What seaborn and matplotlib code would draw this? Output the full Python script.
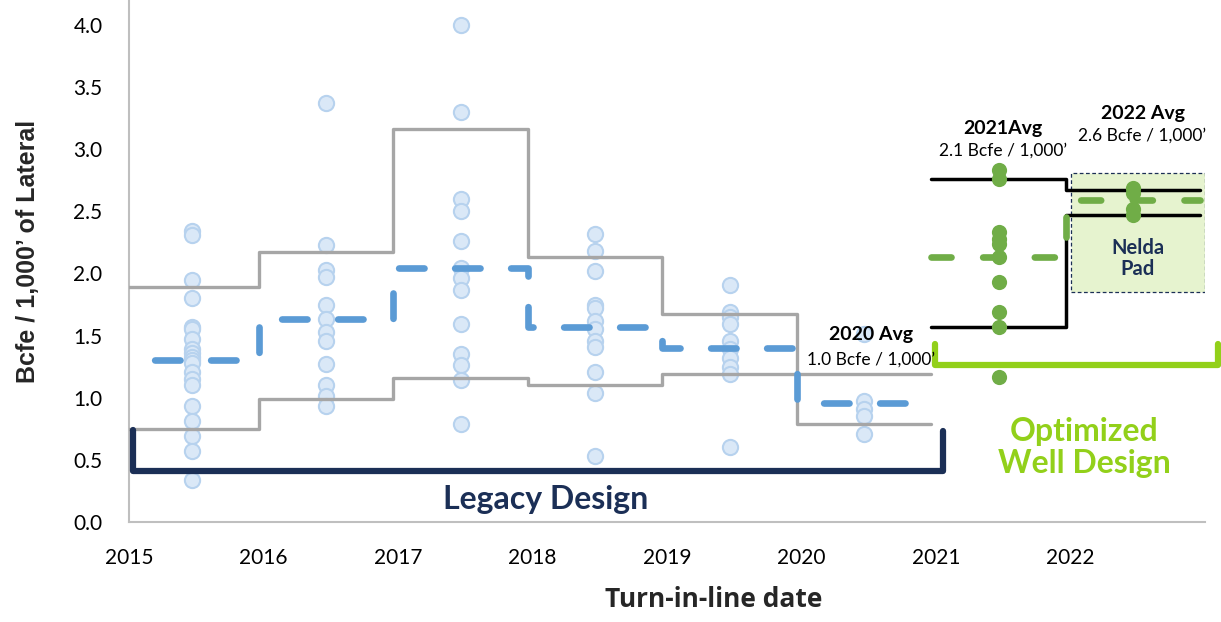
import numpy as np
import pandas as pd
import seaborn as sns
import matplotlib.pyplot as plt
from matplotlib.patches import Rectangle

# ---- data ----
tick_years = [2015, 2016, 2017, 2018, 2019, 2020, 2021, 2022]

# individual wells, legacy design (plotted mid-year)
legacy_wells = {
    2015: [2.34, 2.31, 1.95, 1.80, 1.57, 1.55, 1.47, 1.39, 1.36, 1.33, 1.30,
           1.28, 1.21, 1.15, 1.10, 0.93, 0.81, 0.69, 0.57, 0.34],
    2016: [3.37, 2.23, 2.03, 1.97, 1.75, 1.63, 1.53, 1.46, 1.27, 1.10, 1.01, 0.93],
    2017: [4.00, 3.30, 2.60, 2.50, 2.26, 2.04, 1.96, 1.87, 1.59, 1.35, 1.26,
           1.14, 0.79],
    2018: [2.32, 2.18, 2.02, 1.75, 1.72, 1.62, 1.55, 1.46, 1.41, 1.21, 1.04, 0.53],
    2019: [1.91, 1.69, 1.65, 1.59, 1.46, 1.39, 1.32, 1.25, 1.19, 0.60],
    2020: [1.51, 0.97, 0.91, 0.85, 0.71],
}
# optimized design wells
optimized_wells = {
    2021: [2.83, 2.76, 2.33, 2.28, 2.24, 2.13, 1.93, 1.69, 1.57, 1.17],
    2022: [2.69, 2.65, 2.52, 2.47],
}

legacy_bins = [2015, 2016, 2017, 2018, 2019, 2020, 2021]
legacy_avg = [1.30, 1.63, 2.04, 1.57, 1.40, 0.96]
legacy_band_a = [1.89, 2.17, 3.16, 2.13, 1.67, 0.79]
legacy_band_b = [0.75, 0.99, 1.16, 1.10, 1.19, 1.19]

opt_bins = [2021, 2022, 2023]
opt_avg = [2.13, 2.59]
opt_band_a = [2.76, 2.67]
opt_band_b = [1.57, 2.47]

# ---- styling ----
sns.set_theme(style="white")
plt.rcParams['font.family'] = ['Lato', 'DejaVu Sans']

navy = '#1b2f56'
lime = '#92d01a'
green = '#70ad47'
blue = '#5b9bd5'
grey = '#a6a6a6'
shift = -0.035  # marks sit slightly left of the year ticks in the original

rows = []
for yr, vals in legacy_wells.items():
    rows += [{'x': yr + 0.5 + shift, 'y': v, 'grp': 'legacy'} for v in vals]
for yr, vals in optimized_wells.items():
    rows += [{'x': yr + 0.5 + shift, 'y': v, 'grp': 'optimized'} for v in vals]
wells = pd.DataFrame(rows)

fig = plt.figure(figsize=(12.21, 6.22), dpi=100)
ax = fig.add_axes([129 / 1221, 100 / 622, 1076 / 1221, 522 / 622])

# light blue legacy wells
sns.scatterplot(data=wells[wells.grp == 'legacy'], x='x', y='y', ax=ax,
                s=120, color='#dae8f7', edgecolor='#b7d2ee', linewidth=1.5,
                zorder=2, legend=False)


def step(xb, vals):
    return np.array(xb) + shift, list(vals) + [vals[-1]]


# band lines
for band in (legacy_band_a, legacy_band_b):
    xs, ys = step(legacy_bins, band)
    ax.plot(xs, ys, drawstyle='steps-post', color=grey, lw=2.4, zorder=3)
for band in (opt_band_a, opt_band_b):
    xs, ys = step(opt_bins, band)
    ax.plot(xs, ys, drawstyle='steps-post', color='black', lw=2.5, zorder=3)

# Nelda pad box
ax.add_patch(Rectangle((2022.0, 1.85), 1.0, 0.96, facecolor='#e6f3cf',
                       edgecolor=navy, linestyle=(0, (3, 2)), lw=0.9, zorder=1))
ax.text(2022.5, 2.12, 'Nelda\nPad', ha='center', va='center', fontsize=14.5,
        fontweight='bold', color=navy, linespacing=1.1, zorder=5)

# average dashed lines
xs, ys = step(legacy_bins, legacy_avg)
ax.plot(xs, ys, drawstyle='steps-post', color=blue, lw=4.8,
        linestyle=(3.8, (3.8, 4.6)), dash_capstyle='round', zorder=4)
xs, ys = step(opt_bins, opt_avg)
ax.plot(xs, ys, drawstyle='steps-post', color=green, lw=4.8,
        linestyle=(0, (3.0, 4.75)), dash_capstyle='round', zorder=4)

# optimized wells
sns.scatterplot(data=wells[wells.grp == 'optimized'], x='x', y='y', ax=ax,
                s=120, color=green, edgecolor=green, linewidth=0,
                zorder=5, legend=False)

# brackets
ax.plot([2015.03, 2015.03, 2021.05, 2021.05], [0.74, 0.41, 0.41, 0.73],
        color=navy, lw=4.5, solid_joinstyle='round', solid_capstyle='round',
        zorder=3, clip_on=False)
ax.plot([2020.99, 2020.99, 2023.1, 2023.1], [1.43, 1.26, 1.26, 1.43],
        color=lime, lw=4.5, solid_joinstyle='round', zorder=3, clip_on=False)

ax.text(2018.1, 0.18, 'Legacy Design', ha='center', va='center',
        fontsize=23, fontweight='bold', color=navy)
ax.text(2022.1, 0.6, 'Optimized\nWell Design', ha='center', va='center',
        fontsize=23, fontweight='bold', color=lime, linespacing=1.1)

# average annotations
ax.text(2020.52, 1.51, '2020 Avg', ha='center', va='center', fontsize=14,
        fontweight='bold', color='black', zorder=6)
ax.text(2020.52, 1.31, '1.0 Bcfe / 1,000’', ha='center', va='center',
        fontsize=12.5, color='black', zorder=6)
ax.text(2021.5, 3.17, '2021Avg', ha='center', va='center', fontsize=14,
        fontweight='bold', color='black')
ax.text(2021.5, 2.99, '2.1 Bcfe / 1,000’', ha='center', va='center',
        fontsize=12.5, color='black')
ax.text(2022.54, 3.29, '2022 Avg', ha='center', va='center', fontsize=14,
        fontweight='bold', color='black')
ax.text(2022.53, 3.11, '2.6 Bcfe / 1,000’', ha='center', va='center',
        fontsize=12.5, color='black')

# axes
ax.set_xlim(2015, 2023)
ax.set_ylim(0, 4.2)
ax.set_yticks(np.arange(0, 4.01, 0.5))
ax.set_yticklabels([f'{v:.1f}' for v in np.arange(0, 4.01, 0.5)])
ax.set_xticks(tick_years)
ax.set_xticklabels([str(y) for y in tick_years])
ax.tick_params(axis='both', length=0, labelsize=15, colors='black')
ax.tick_params(axis='x', pad=19)
ax.tick_params(axis='y', pad=19)
for s in ('top', 'right'):
    ax.spines[s].set_visible(False)
for s in ('left', 'bottom'):
    ax.spines[s].set_color('#bfbfbf')
    ax.spines[s].set_linewidth(1.5)

ax.set_xlabel('Turn-in-line date', fontsize=19, fontweight='bold',
              family=['Open Sans', 'DejaVu Sans'])
ax.set_ylabel('Bcfe / 1,000’ of Lateral', fontsize=18, fontweight='bold',
              family=['Liberation Sans', 'DejaVu Sans'])
ax.xaxis.set_label_coords(0.543, -0.122)
ax.yaxis.set_label_coords(-0.083, 0.518)

fig.savefig('out.png', dpi=100)
plt.close(fig)
